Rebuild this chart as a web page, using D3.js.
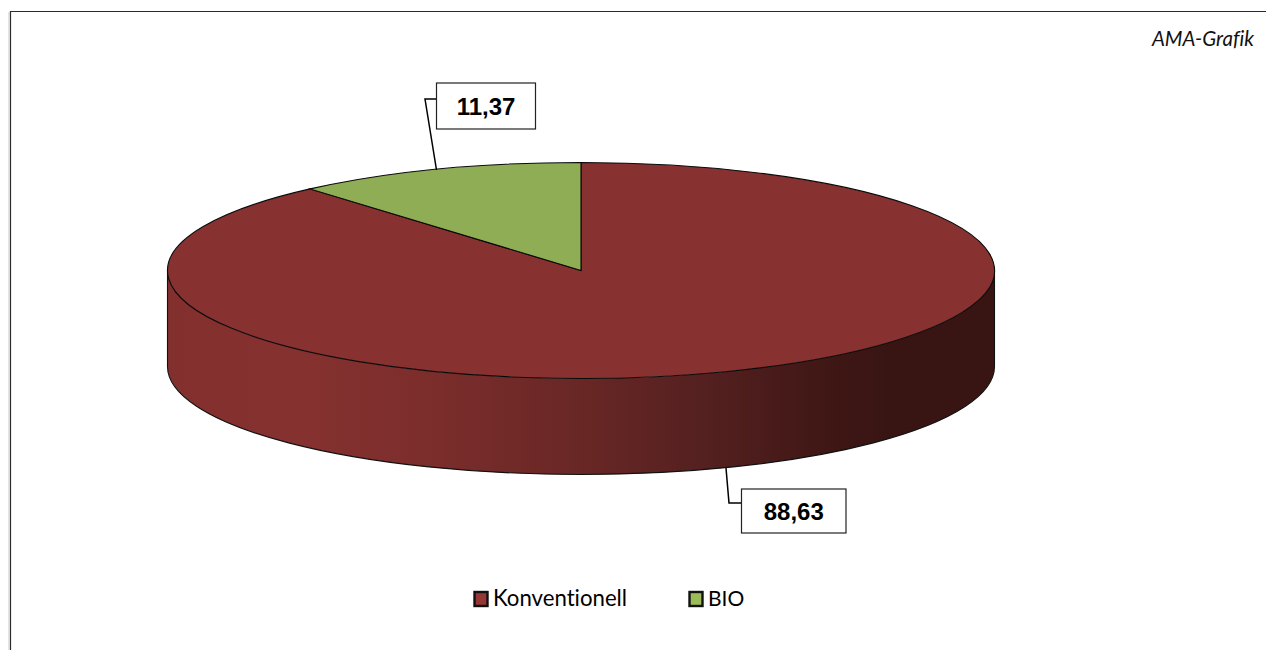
<!DOCTYPE html>
<html><head><meta charset="utf-8">
<script src="https://cdn.jsdelivr.net/npm/d3@7"></script>
<style>
html,body{margin:0;padding:0;background:#fff;overflow:hidden}
svg{display:block}
text{font-variant-ligatures:none}
</style></head><body>
<svg id="c" width="1266" height="650"></svg>
<script>
const categories = ["Konventionell", "BIO"];
const values = [88.63, 11.37];
const valueLabels = ["88,63", "11,37"];
const colors = ["#873231", "#8FAD54"];
const legendColors = ["#953735", "#9BBB59"];
const sourceNote = "AMA-Grafik";

const W = 1266, H = 650;
const cx = 581, cy = 270.5, rx = 413.5, ry = 108, depth = 96;
const svg = d3.select("#c");

const defs = svg.append("defs");
const grad = defs.append("linearGradient").attr("id","wall")
  .attr("gradientUnits","userSpaceOnUse")
  .attr("x1",cx-rx).attr("x2",cx+rx).attr("y1",0).attr("y2",0);
[[0,"#822f2e"],[0.15,"#853130"],[0.3,"#7d2e2c"],[0.5,"#682725"],[0.65,"#542020"],[0.8,"#3f1715"],[0.87,"#381513"],[1,"#381513"]]
  .forEach(s=>grad.append("stop").attr("offset",s[0]).attr("stop-color",s[1]));

// frame
svg.append("path").attr("d",`M10.5,650V11.5H${W}`).attr("fill","none").attr("stroke","#2b2b2b").attr("stroke-width",1.2);
svg.append("line").attr("x1",9).attr("x2",9).attr("y1",12).attr("y2",650).attr("stroke","#c8c8c8").attr("stroke-width",1);

// source note
svg.append("text").attr("x",1254).attr("y",46).attr("text-anchor","end")
  .attr("font-family","Lato, 'Open Sans', sans-serif").attr("font-style","italic").attr("font-size",20.5)
  .attr("fill","#111").text(sourceNote);

// side wall
svg.append("path")
  .attr("d",`M${cx-rx},${cy}A${rx},${ry} 0 0 0 ${cx+rx},${cy}V${cy+depth}A${rx},${ry} 0 0 1 ${cx-rx},${cy+depth}Z`)
  .attr("fill","url(#wall)");
svg.append("path")
  .attr("d",`M${cx-rx},${cy}V${cy+depth}A${rx},${ry} 0 0 0 ${cx+rx},${cy+depth}V${cy}`)
  .attr("fill","none").attr("stroke","#111").attr("stroke-width",1.1);

// top slices
const pieData = d3.pie().sort(null).value(d=>d)(values);
const arc = d3.arc().innerRadius(0).outerRadius(rx);
const topFace = svg.append("g").attr("transform",`translate(${cx},${cy}) scale(1,${ry/rx})`);
topFace.selectAll("path").data(pieData).join("path")
  .attr("d",arc)
  .attr("fill",(d,i)=>colors[i])
  .attr("stroke","#0a0a0a")
  .attr("stroke-width",1.1)
  .attr("vector-effect","non-scaling-stroke");

// data labels with leaders
const labelBoxes = [
  {i:0,x:741.5,y:489,w:104.5,h:44,dy:9,pts:[[741.5,503],[729,503],[726,468]]},
  {i:1,x:436.5,y:83,w:99,h:46,dy:8.5,pts:[[436.5,99],[425,99],[436.5,170]]}
];
labelBoxes.forEach(b=>{
  svg.append("path").attr("d",d3.line()(b.pts)).attr("fill","none").attr("stroke","#000").attr("stroke-width",1.5);
  svg.append("rect").attr("x",b.x).attr("y",b.y).attr("width",b.w).attr("height",b.h)
    .attr("fill","#fff").attr("stroke","#222").attr("stroke-width",1.2);
  svg.append("text").attr("x",b.x+b.w/2).attr("y",b.y+b.h/2+b.dy).attr("text-anchor","middle")
    .attr("font-family","'Liberation Sans', Arial, sans-serif").attr("font-weight","bold").attr("font-size",24)
    .attr("fill","#000").text(valueLabels[b.i]);
});

// legend
const legendX = [473.5, 688.5];
const legendFontSize = [22.2, 21];
categories.forEach((c,i)=>{
  svg.append("rect").attr("x",legendX[i]+1).attr("y",592).attr("width",13).attr("height",14)
    .attr("fill",legendColors[i]).attr("stroke","#111").attr("stroke-width",2.4);
  svg.append("text").attr("x",legendX[i]+19.5).attr("y",606)
    .attr("font-family","Lato, 'Open Sans', sans-serif").attr("font-size",legendFontSize[i])
    .attr("fill","#000").text(c);
});
</script>
</body></html>
